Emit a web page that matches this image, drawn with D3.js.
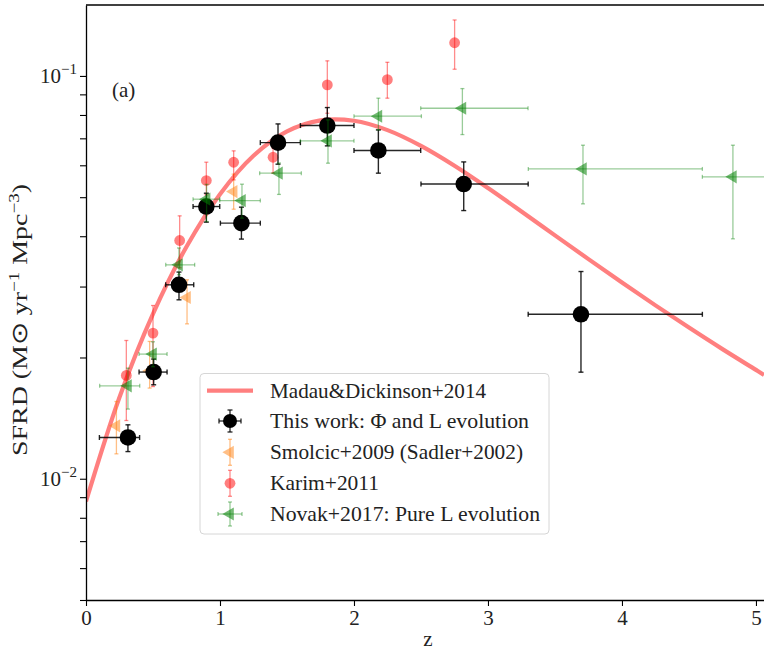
<!DOCTYPE html>
<html>
<head>
<meta charset="utf-8">
<script src="https://cdn.jsdelivr.net/npm/d3@7"></script>
</head>
<body style="margin:0; background:#fff">
<div id="chart"></div>
<script>
// Madau & Dickinson 2014 curve
const mdZ = [0, 0.25, 0.5, 0.75, 1.0, 1.25, 1.5, 1.75, 2.0, 2.25, 2.5, 2.75, 3.0, 3.25, 3.5, 3.75, 4.0, 4.25, 4.5, 4.75, 5.0, 5.06];
const mdSfrd = [0.00878, 0.01594, 0.02567, 0.03767, 0.05087, 0.06335, 0.07281, 0.07757, 0.07740, 0.07337, 0.06705, 0.05986,
  0.05270, 0.04608, 0.04020, 0.03509, 0.03069, 0.02694, 0.02373, 0.02098, 0.01863, 0.0181];

// This work: Phi and L evolution
const twZ = [0.313, 0.505, 0.694, 0.898, 1.160, 1.433, 1.801, 2.182, 2.819, 3.694];
const twSfrd = [0.01266, 0.0184, 0.0303, 0.0474, 0.0431, 0.0683, 0.0753, 0.0653, 0.0539, 0.0256];
const twLo = [0.01168, 0.01711, 0.02781, 0.04335, 0.03935, 0.06038, 0.06704, 0.05736, 0.04632, 0.01839];
const twHi = [0.01361, 0.01982, 0.03259, 0.05115, 0.04723, 0.07601, 0.08346, 0.07345, 0.06117, 0.03269];
const twZLo = [0.10, 0.396, 0.595, 0.799, 1.003, 1.301, 1.60, 2.0, 2.5, 3.30];
const twZHi = [0.40, 0.605, 0.804, 0.998, 1.301, 1.60, 2.0, 2.498, 3.30, 4.60];

// Smolcic+2009 (Sadler+2002)
const smZ = [0.227, 0.475, 0.754, 1.102];
const smSfrd = [0.01353, 0.0185, 0.02818, 0.05162];
const smLo = [0.01153, 0.01679, 0.02424, 0.04668];
const smHi = [0.01555, 0.02192, 0.03118, 0.05704];

// Karim+2011
const kaZ = [0.301, 0.5, 0.699, 0.898, 1.102, 1.396, 1.801, 2.249, 2.751];
const kaSfrd = [0.01805, 0.02299, 0.03904, 0.05499, 0.06105, 0.06282, 0.09499, 0.09791, 0.1209];
const kaLo = [0.01395, 0.01694, 0.0334, 0.05067, 0.0552, 0.0574, 0.08078, 0.08806, 0.1039];
const kaHi = [0.02204, 0.02692, 0.04494, 0.06107, 0.06516, 0.0663, 0.109, 0.1081, 0.1377];

// Novak+2017: pure L evolution
const noZ = [0.313, 0.5, 0.694, 0.9, 1.164, 1.44, 1.806, 2.182, 2.809, 3.709, 4.828];
const noSfrd = [0.01701, 0.02039, 0.03396, 0.04943, 0.04905, 0.05735, 0.06899, 0.07943, 0.08313, 0.05877, 0.05617];
const noLo = [0.01489, 0.01897, 0.0321, 0.0435, 0.04435, 0.0508, 0.06073, 0.07345, 0.07152, 0.04813, 0.03941];
const noHi = [0.01882, 0.02188, 0.0374, 0.0538, 0.05386, 0.0608, 0.0778, 0.08806, 0.09302, 0.0673, 0.0673];
const noZLo = [0.102, 0.396, 0.595, 0.799, 0.998, 1.296, 1.6, 2.0, 2.498, 3.301, 4.6];
const noZHi = [0.401, 0.605, 0.811, 0.998, 1.301, 1.607, 2.0, 2.503, 3.299, 4.6, 5.1];

const xTicks = [0, 1, 2, 3, 4, 5];
const yMajor = [0.01, 0.1];
const yMinor = [0.005, 0.006, 0.007, 0.008, 0.009, 0.02, 0.03, 0.04, 0.05, 0.06, 0.07, 0.08, 0.09];

const legendLabels = ['Madau&Dickinson+2014', 'This work: \u03A6 and L evolution', 'Smolcic+2009 (Sadler+2002)',
  'Karim+2011', 'Novak+2017: Pure L evolution'];

const W = 764, H = 655;
const plot = { left: 86, right: 764, top: 5, bottom: 600 };
const fontFamily = 'Liberation Serif';
const fontSize = 21;
const supSize = 15;
const textColor = '#222';

const x = d3.scaleLinear().domain([0, 5.06]).range([plot.left, plot.right]);
const y = d3.scaleLog().domain([0.005, 0.15]).range([plot.bottom, plot.top]);

const svg = d3.select('#chart').append('svg')
  .attr('width', W).attr('height', H)
  .attr('font-family', fontFamily);

svg.append('defs').append('clipPath').attr('id', 'clip')
  .append('rect')
  .attr('x', plot.left).attr('y', plot.top)
  .attr('width', plot.right - plot.left).attr('height', plot.bottom - plot.top);

const marks = svg.append('g').attr('clip-path', 'url(#clip)');

// model curve
const line = d3.line()
  .x((d, i) => x(mdZ[i]))
  .y(d => y(d))
  .curve(d3.curveCatmullRom);

marks.append('path')
  .attr('d', line(mdSfrd))
  .attr('fill', 'none')
  .attr('stroke', 'red')
  .attr('stroke-opacity', 0.5)
  .attr('stroke-width', 4.2);

// error bars helper
function errorBars(g, zs, vals, lo, hi, zlo, zhi, color, opacity, cap, width) {
  const eg = g.append('g')
    .attr('stroke', color)
    .attr('stroke-opacity', opacity)
    .attr('stroke-width', width);
  zs.forEach((z, i) => {
    const cx = x(z), cy = y(vals[i]);
    const y1 = y(hi[i]), y2 = y(lo[i]);
    eg.append('line').attr('x1', cx).attr('x2', cx).attr('y1', y1).attr('y2', y2);
    eg.append('line').attr('x1', cx - cap).attr('x2', cx + cap).attr('y1', y1).attr('y2', y1);
    eg.append('line').attr('x1', cx - cap).attr('x2', cx + cap).attr('y1', y2).attr('y2', y2);
    if (zlo) {
      const x1 = x(zlo[i]), x2 = x(zhi[i]);
      eg.append('line').attr('x1', x1).attr('x2', x2).attr('y1', cy).attr('y2', cy);
      eg.append('line').attr('x1', x1).attr('x2', x1).attr('y1', cy - cap).attr('y2', cy + cap);
      eg.append('line').attr('x1', x2).attr('x2', x2).attr('y1', cy - cap).attr('y2', cy + cap);
    }
  });
}

const triLeft = d3.symbol().type(d3.symbolTriangle).size(75);

// Smolcic
errorBars(marks, smZ, smSfrd, smLo, smHi, null, null, '#ff7f0e', 0.5, 2, 1.3);
marks.selectAll('.sm').data(smSfrd).enter().append('path')
  .attr('d', triLeft)
  .attr('transform', (d, i) => `translate(${x(smZ[i])},${y(d)}) rotate(-90)`)
  .attr('fill', '#ff7f0e')
  .attr('fill-opacity', 0.5);

// Karim
errorBars(marks, kaZ, kaSfrd, kaLo, kaHi, null, null, 'red', 0.45, 2, 1.3);
marks.selectAll('.ka').data(kaSfrd).enter().append('circle')
  .attr('cx', (d, i) => x(kaZ[i]))
  .attr('cy', d => y(d))
  .attr('r', 5.4)
  .attr('fill', 'red')
  .attr('fill-opacity', 0.5);

// This work
errorBars(marks, twZ, twSfrd, twLo, twHi, twZLo, twZHi, 'black', 0.85, 2.5, 1.4);
marks.selectAll('.tw').data(twSfrd).enter().append('circle')
  .attr('cx', (d, i) => x(twZ[i]))
  .attr('cy', d => y(d))
  .attr('r', 8.3)
  .attr('fill', 'black');

// Novak
errorBars(marks, noZ, noSfrd, noLo, noHi, noZLo, noZHi, 'green', 0.4, 2, 1.3);
marks.selectAll('.no').data(noSfrd).enter().append('path')
  .attr('d', triLeft)
  .attr('transform', (d, i) => `translate(${x(noZ[i])},${y(d)}) rotate(-90)`)
  .attr('fill', 'green')
  .attr('fill-opacity', 0.55);

// axes
const xAxis = svg.append('g')
  .attr('transform', `translate(0,${plot.bottom})`)
  .call(d3.axisBottom(x).tickValues(xTicks).tickSize(6).tickSizeOuter(0).tickPadding(4).tickFormat(d3.format('d')));
xAxis.attr('font-family', fontFamily).attr('font-size', fontSize);
xAxis.selectAll('text').attr('fill', textColor);

const yAxis = svg.append('g')
  .attr('transform', `translate(${plot.left},0)`)
  .call(d3.axisLeft(y).tickValues(yMajor.concat(yMinor)).tickSize(6).tickSizeOuter(0).tickFormat(''));

[xAxis, yAxis].forEach(a => {
  a.select('.domain').attr('stroke-width', 1.3);
  a.selectAll('.tick line').attr('stroke-width', 1.1);
});

// top spine
svg.append('line')
  .attr('x1', plot.left).attr('x2', plot.right)
  .attr('y1', plot.top).attr('y2', plot.top)
  .attr('stroke', 'black').attr('stroke-width', 1.3);

function addText(parent) {
  return parent.append('text')
    .attr('font-family', fontFamily)
    .attr('font-size', fontSize)
    .attr('fill', textColor);
}

// y tick labels 10^-n
yMajor.forEach(v => {
  const t = addText(svg)
    .attr('x', plot.left - 9)
    .attr('y', y(v) + 7)
    .attr('text-anchor', 'end');
  t.append('tspan').text('10');
  t.append('tspan').attr('dy', -9).attr('font-size', supSize).text('\u2212' + Math.round(-Math.log10(v)));
});

// axis labels
addText(svg)
  .attr('x', (plot.left + plot.right) / 2 + 3)
  .attr('y', 646)
  .attr('text-anchor', 'middle')
  .text('z');

const yl = addText(svg)
  .attr('transform', 'translate(27,320) rotate(-90)')
  .attr('text-anchor', 'middle')
  .attr('font-size', 22)
  .attr('textLength', 272)
  .attr('lengthAdjust', 'spacingAndGlyphs');
yl.append('tspan').text('SFRD (M');
yl.append('tspan').text('\u2299');
yl.append('tspan').text(' yr');
yl.append('tspan').attr('dy', -8).attr('font-size', 15).text('\u22121');
yl.append('tspan').attr('dy', 8).text(' Mpc');
yl.append('tspan').attr('dy', -8).attr('font-size', 15).text('\u22123');
yl.append('tspan').attr('dy', 8).text(')');

// panel tag
addText(svg)
  .attr('x', 112).attr('y', 97)
  .text('(a)');

// legend
const legend = svg.append('g');
legend.append('rect')
  .attr('x', 200).attr('y', 373.5)
  .attr('width', 349).attr('height', 160.5)
  .attr('rx', 4)
  .attr('fill', 'white').attr('fill-opacity', 0.8)
  .attr('stroke', '#d6d6d6').attr('stroke-width', 1);

const rowY = [390.7, 421, 452.3, 483.3, 514];
const labelWidths = [216, 259, 253, 109, 270];
const hx = 230;

legend.append('line')
  .attr('x1', 207).attr('x2', 253)
  .attr('y1', rowY[0]).attr('y2', rowY[0])
  .attr('stroke', 'red').attr('stroke-opacity', 0.5).attr('stroke-width', 4.2);

function legendBars(cy, color, opacity, len, withX, cap) {
  const g = legend.append('g').attr('stroke', color).attr('stroke-opacity', opacity).attr('stroke-width', 1.3);
  g.append('line').attr('x1', hx).attr('x2', hx).attr('y1', cy - len).attr('y2', cy + len);
  g.append('line').attr('x1', hx - cap).attr('x2', hx + cap).attr('y1', cy - len).attr('y2', cy - len);
  g.append('line').attr('x1', hx - cap).attr('x2', hx + cap).attr('y1', cy + len).attr('y2', cy + len);
  if (withX) {
    g.append('line').attr('x1', hx - len).attr('x2', hx + len).attr('y1', cy).attr('y2', cy);
    g.append('line').attr('x1', hx - len).attr('x2', hx - len).attr('y1', cy - cap).attr('y2', cy + cap);
    g.append('line').attr('x1', hx + len).attr('x2', hx + len).attr('y1', cy - cap).attr('y2', cy + cap);
  }
}

legendBars(rowY[1], 'black', 0.85, 11, true, 2.5);
legend.append('circle').attr('cx', hx).attr('cy', rowY[1]).attr('r', 7).attr('fill', 'black');

legendBars(rowY[2], '#ff7f0e', 0.5, 13, false, 2);
legend.append('path').attr('d', triLeft)
  .attr('transform', `translate(${hx},${rowY[2]}) rotate(-90)`)
  .attr('fill', '#ff7f0e').attr('fill-opacity', 0.5);

legendBars(rowY[3], 'red', 0.45, 13, false, 2);
legend.append('circle').attr('cx', hx).attr('cy', rowY[3]).attr('r', 5.4)
  .attr('fill', 'red').attr('fill-opacity', 0.5);

legendBars(rowY[4], 'green', 0.4, 12, true, 2);
legend.append('path').attr('d', triLeft)
  .attr('transform', `translate(${hx},${rowY[4]}) rotate(-90)`)
  .attr('fill', 'green').attr('fill-opacity', 0.55);

legendLabels.forEach((s, i) => {
  addText(legend)
    .attr('x', 270).attr('y', rowY[i] + 7)
    .attr('textLength', labelWidths[i])
    .attr('lengthAdjust', 'spacingAndGlyphs')
    .text(s);
});
</script>
</body>
</html>
